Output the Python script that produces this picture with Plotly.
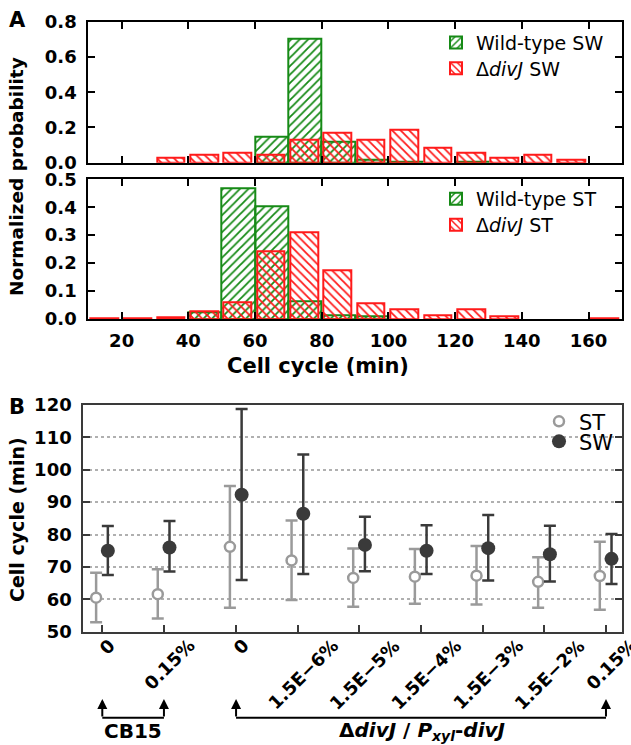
import plotly.graph_objects as go

# ---------------- Panel A data (normalized probability per 10-min bin) ----------------
bin_start = [10, 20, 30, 40, 50, 60, 70, 80, 90, 100, 110, 120, 130, 140, 150, 160]
wt_sw   = [None, None, None, None, None, 0.147, 0.705, 0.119, 0.017, 0.005, None, 0.005, None, None, None, None]
divj_sw = [None, None, 0.029, 0.043, 0.058, 0.043, 0.128, 0.170, 0.128, 0.185, 0.085, 0.056, 0.028, 0.043, 0.015, None]
wt_st   = [None, None, None, 0.025, 0.468, 0.402, 0.064, 0.015, 0.008, None, None, None, None, None, None, None]
divj_st = [0.004, 0.004, 0.007, 0.026, 0.060, 0.241, 0.309, 0.175, 0.057, 0.036, 0.015, 0.036, 0.010, None, None, 0.004]
a_xticks = [20, 40, 60, 80, 100, 120, 140, 160]

# ---------------- Panel B data ----------------
b_pos    = [0, 1, 2.17, 3.17, 4.17, 5.17, 6.17, 7.17, 8.17]
b_labels = ["0", "0.15%", "0", "1.5E\u22126%", "1.5E\u22125%", "1.5E\u22124%", "1.5E\u22123%", "1.5E\u22122%", "0.15%"]
st_mean  = [60.5, 61.6, 76.2, 72.0, 66.6, 67.0, 67.3, 65.4, 67.2]
st_hi    = [68.2, 69.3, 95.0, 84.3, 75.7, 75.5, 76.5, 73.0, 77.8]
st_lo    = [52.9, 54.1, 57.4, 59.8, 57.7, 58.6, 58.4, 57.4, 56.8]
sw_mean  = [75.0, 76.0, 92.3, 86.4, 76.8, 75.0, 75.8, 73.9, 72.5]
sw_hi    = [82.6, 84.2, 118.8, 104.7, 85.5, 82.9, 86.0, 82.7, 80.2]
sw_lo    = [67.5, 68.6, 66.0, 67.8, 68.7, 67.8, 65.8, 65.5, 64.7]

W, H = 631, 745
def px(x): return x / W
def py(y): return 1 - y / H

GREEN = "#168a16"
RED = "#ff1a1a"
ST_C = "#9a9a9a"
SW_C = "#3a3a3a"
FONT = "DejaVu Sans"

fig = go.Figure()

def add_bars(vals, color, shape, center_off, width, xa, ya, name, legend):
    fig.add_trace(go.Bar(
        x=[b + center_off for b in bin_start], y=vals, width=width,
        xaxis=xa, yaxis=ya, name=name, legend=legend,
        marker=dict(color=color, line=dict(color=color, width=2),
                    pattern=dict(shape=shape, fgcolor=color, bgcolor="rgba(0,0,0,0)",
                                 size=6, solidity=0.3, fillmode="replace")),
    ))

add_bars(wt_sw, GREEN, "/", 5, 10, "x", "y", "Wild-type SW", "legend")
add_bars(divj_sw, RED, "\\", 4.75, 8.3, "x", "y", "\u0394<i>divJ</i> SW", "legend2")
add_bars(wt_st, GREEN, "/", 5, 10, "x2", "y2", "Wild-type ST", "legend3")
add_bars(divj_st, RED, "\\", 4.75, 8.3, "x2", "y2", "\u0394<i>divJ</i> ST", "legend4")

fig.add_trace(go.Scatter(
    x=[p - 0.1 for p in b_pos], y=st_mean, mode="markers", name="ST", legend="legend5",
    xaxis="x3", yaxis="y3",
    marker=dict(symbol="circle", size=10, color="white", line=dict(color=ST_C, width=2.5)),
    error_y=dict(type="data", symmetric=False,
                 array=[h - m for h, m in zip(st_hi, st_mean)],
                 arrayminus=[m - l for m, l in zip(st_mean, st_lo)],
                 color=ST_C, thickness=2.5, width=6),
))
fig.add_trace(go.Scatter(
    x=[p + 0.09 for p in b_pos], y=sw_mean, mode="markers", name="SW", legend="legend6",
    xaxis="x3", yaxis="y3",
    marker=dict(symbol="circle", size=14, color=SW_C),
    error_y=dict(type="data", symmetric=False,
                 array=[h - m for h, m in zip(sw_hi, sw_mean)],
                 arrayminus=[m - l for m, l in zip(sw_mean, sw_lo)],
                 color=SW_C, thickness=2.5, width=6),
))

tickfont = dict(family=FONT, size=18, color="black", weight="bold")
a_x_common = dict(range=[10, 170], domain=[px(88.3), px(621.9)], tickvals=a_xticks,
                  ticks="inside", ticklen=7, tickwidth=2, tickcolor="black",
                  showline=True, linecolor="black", linewidth=2, mirror="ticks",
                  showgrid=False, zeroline=False, tickfont=tickfont, automargin=False)
a_y_common = dict(ticks="inside", ticklen=7, tickwidth=2, tickcolor="black",
                  showline=True, linecolor="black", linewidth=2, mirror="ticks",
                  showgrid=False, zeroline=False, tickfont=tickfont, tickformat=".1f",
                  ticklabelstandoff=6, automargin=False)

fig.update_layout(
    width=W, height=H, margin=dict(l=0, r=0, t=0, b=0, autoexpand=False),
    paper_bgcolor="white", plot_bgcolor="rgba(0,0,0,0)",
    barmode="overlay", bargap=0, showlegend=True,
    xaxis=dict(anchor="y", showticklabels=False, **a_x_common),
    yaxis=dict(anchor="x", domain=[py(162.7), py(21.7)], range=[0, 0.8],
               tickvals=[0, 0.2, 0.4, 0.6, 0.8], **a_y_common),
    xaxis2=dict(anchor="y2", showticklabels=True, ticklabelstandoff=4, **a_x_common),
    yaxis2=dict(anchor="x2", domain=[py(319), py(179.3)], range=[0, 0.5],
                tickvals=[0, 0.1, 0.2, 0.3, 0.4, 0.5], **a_y_common),
    xaxis3=dict(anchor="y3", domain=[px(83.3), px(621.7)], range=[-0.308, 8.425],
                tickvals=b_pos, showticklabels=False,
                ticks="inside", ticklen=7, tickwidth=2, tickcolor=SW_C,
                showline=True, linecolor=SW_C, linewidth=2, mirror=True,
                showgrid=False, zeroline=False, automargin=False),
    yaxis3=dict(anchor="x3", domain=[py(631.7), py(405)], range=[50, 120], dtick=10,
                ticks="inside", ticklen=7, tickwidth=2, tickcolor=SW_C,
                showline=True, linecolor=SW_C, linewidth=2, mirror="ticks",
                showgrid=True, gridcolor="#b0b0b0", griddash="dot", gridwidth=1.5,
                zeroline=False, tickfont=tickfont, ticklabelstandoff=6, automargin=False),
)

leg_common = dict(xanchor="left", yanchor="middle", bgcolor="rgba(0,0,0,0)",
                  borderwidth=0, tracegroupgap=0)
legfont_a = dict(family=FONT, size=19, color="black")
legfont_b = dict(family=FONT, size=21, color="black")
fig.update_layout(
    legend=dict(x=px(436), y=py(42.7), font=legfont_a, **leg_common),
    legend2=dict(x=px(436), y=py(68.3), font=legfont_a, **leg_common),
    legend3=dict(x=px(436), y=py(199), font=legfont_a, **leg_common),
    legend4=dict(x=px(436), y=py(225), font=legfont_a, **leg_common),
    legend5=dict(x=px(539), y=py(421.7), font=legfont_b, **leg_common),
    legend6=dict(x=px(539), y=py(441.7), font=legfont_b, **leg_common),
)

ann = []
def text(x, y, s, size, xanchor="center", angle=0, family=FONT):
    ann.append(dict(x=px(x), y=py(y), xref="paper", yref="paper", text=s, showarrow=False,
                    xanchor=xanchor, yanchor="middle", textangle=angle,
                    font=dict(family=family, size=size, color="black", weight="bold")))

text(7, 20, "A", 21, xanchor="left")
text(7, 407, "B", 21, xanchor="left")
text(17, 177, "Normalized probability", 18.5, angle=-90)
text(17, 520, "Cell cycle (min)", 19, angle=-90)
text(318, 366, "Cell cycle (min)", 21)
text(133, 731, "CB15", 20)
text(422, 731, "\u0394<i>divJ</i> / <i>P<sub>xyl</sub></i>-<i>divJ</i>", 20)

# rotated category labels of panel B, centred on their ticks
for p, lab in zip(b_pos, b_labels):
    ann.append(dict(x=p, y=py(632), xref="x3", yref="paper", text=lab, showarrow=False,
                    xanchor="center", yanchor="top", textangle=-45, xshift=5,
                    font=dict(family=FONT, size=18, color="black", weight="bold")))

# bracket arrows below panel B
for i in [0, 1, 2, 8]:
    ann.append(dict(x=b_pos[i], y=py(699), xref="x3", yref="paper", text="", showarrow=True,
                    arrowhead=2, arrowsize=1, arrowwidth=2, arrowcolor="black",
                    ax=0, ay=19, axref="pixel", ayref="pixel", standoff=0))
fig.update_layout(annotations=ann)

for a, b in [(0, 1), (2, 8)]:
    fig.add_shape(type="line", xref="x3", yref="paper", x0=b_pos[a], x1=b_pos[b],
                  y0=py(717.7), y1=py(717.7), line=dict(color="black", width=2))

fig.write_html("out.html", config={"displayModeBar": False},
               post_script="document.body.style.margin='0';")
